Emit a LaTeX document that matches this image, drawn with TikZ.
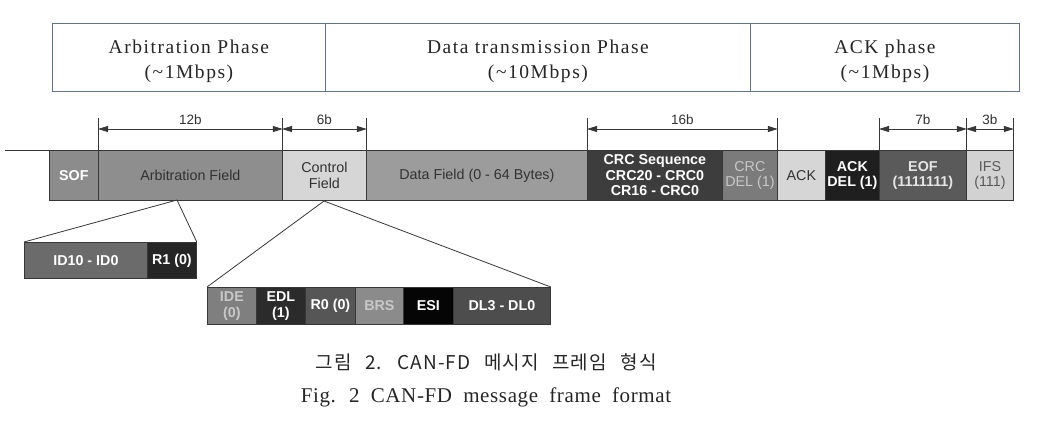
\documentclass[tikz,border=0pt]{standalone}
\usepackage{fontspec}
\setmainfont{Liberation Serif}
\setsansfont{Liberation Sans}
\newfontfamily\hdrfont[LetterSpace=8]{Liberation Serif}
\newfontfamily\capfont[LetterSpace=3,WordSpace=1.9]{Liberation Serif}
\newfontfamily\krfont[LetterSpace=6,WordSpace=2.5]{Noto Sans CJK KR}
\usetikzlibrary{arrows.meta}
\definecolor{hdrline}{RGB}{95,115,140}
\definecolor{edge}{RGB}{55,55,55}
\definecolor{txtdark}{RGB}{50,50,50}
\definecolor{cSOF}{RGB}{140,140,140}
\definecolor{cARB}{RGB}{142,142,142}
\definecolor{cCTL}{RGB}{214,214,214}
\definecolor{cDATA}{RGB}{156,156,156}
\definecolor{cCRC}{RGB}{61,61,61}
\definecolor{cCRCD}{RGB}{123,123,123}
\definecolor{cACK}{RGB}{214,214,214}
\definecolor{cACKD}{RGB}{31,31,31}
\definecolor{cEOF}{RGB}{90,90,90}
\definecolor{cIFS}{RGB}{210,210,210}
\definecolor{cID}{RGB}{107,107,107}
\definecolor{cR1}{RGB}{38,38,38}
\definecolor{cIDE}{RGB}{127,127,127}
\definecolor{cEDL}{RGB}{43,43,43}
\definecolor{cR0}{RGB}{86,86,86}
\definecolor{cBRS}{RGB}{139,139,139}
\definecolor{cESI}{RGB}{5,5,5}
\definecolor{cDL}{RGB}{77,77,77}
\definecolor{lighttxt}{RGB}{200,200,200}
\tikzset{
  phase/.style={draw=hdrline, line width=0.9pt, fill=white, minimum height=68pt,
    anchor=north west, inner sep=0pt, align=center, text=black!85,
    font=\hdrfont\fontsize{19.5}{25}\selectfont},
  fld/.style={draw=edge, line width=0.8pt, minimum height=50pt, anchor=north west,
    inner sep=0pt, align=center, font=\sffamily\fontsize{14.3}{15.5}\selectfont},
  fldb/.style={fld, font=\sffamily\bfseries\fontsize{14.3}{15.5}\selectfont},
  sub/.style={draw=edge, line width=0.8pt, minimum height=36pt, anchor=north west,
    inner sep=0pt, align=center, text=white, font=\sffamily\bfseries\fontsize{14.3}{16}\selectfont},
  tick/.style={draw=edge, line width=0.8pt},
  dim/.style={draw=edge, line width=0.8pt, {Triangle[length=10pt,width=6pt]}-{Triangle[length=10pt,width=6pt]}},
  dimlbl/.style={text=txtdark, font=\sffamily\fontsize{13.5}{15}\selectfont, inner sep=0pt},
  zoomline/.style={draw=edge, line width=0.8pt}
}
\begin{document}
\begin{tikzpicture}[x=1pt, y=-1pt]
\useasboundingbox (0,0) rectangle (1062,421);
% header
\node[phase, minimum width=273pt] (ph1) at (52,23) {\rule{0pt}{22pt}Arbitration Phase\\(\textasciitilde1Mbps)};
\node[phase, minimum width=425pt] (ph2) at (325,23) {\rule{0pt}{22pt}Data transmission Phase\\(\textasciitilde10Mbps)};
\node[phase, minimum width=269pt] (ph3) at (750,23) {\rule{0pt}{22pt}ACK phase\\(\textasciitilde1Mbps)};
% frame
\coordinate (lead) at (5,150);
\node[fldb, fill=cSOF, text=white, minimum width=49pt] (sof) at (49,150) {SOF};
\node[fld, fill=cARB, text=txtdark, minimum width=184pt] (arb) at (98,150) {Arbitration Field};
\node[fld, fill=cCTL, text=txtdark, minimum width=84pt] (ctl) at (282,150) {Control\\Field};
\node[fld, fill=cDATA, text=txtdark, minimum width=221pt] (data) at (366,150) {Data Field (0 - 64 Bytes)};
\node[fldb, fill=cCRC, text=white, minimum width=135pt] (crc) at (587,150) {CRC Sequence\\CRC20 - CRC0\\CR16 - CRC0};
\node[fld, fill=cCRCD, text=lighttxt, minimum width=55pt] (crcd) at (722,150) {CRC\\DEL (1)};
\node[fld, fill=cACK, text=txtdark, minimum width=48pt] (ack) at (777,150) {ACK};
\node[fldb, fill=cACKD, text=white, minimum width=54pt] (ackd) at (825,150) {ACK\\DEL (1)};
\node[fldb, fill=cEOF, text=white!90!black, minimum width=87pt] (eof) at (879,150) {EOF\\(1111111)};
\node[fld, fill=cIFS, text=black!65, minimum width=47pt] (ifs) at (966,150) {IFS\\(111)};
\draw[zoomline] (lead) -- (sof.north west);
% ticks
\foreach \n/\a in {arb/north west, ctl/north west, data/north west, crc/north west, crcd/north east, ackd/north east, eof/north east, ifs/north east}{
  \draw[tick] (\n.\a) -- ++(0,-32);
}
% dimension arrows
\draw[dim] ([yshift=21pt]arb.north west) -- node[dimlbl, above=4pt]{12b} ([yshift=21pt]arb.north east);
\draw[dim] ([yshift=21pt]ctl.north west) -- node[dimlbl, above=4pt]{6b} ([yshift=21pt]ctl.north east);
\draw[dim] ([yshift=21pt]crc.north west) -- node[dimlbl, above=4pt]{16b} ([yshift=21pt]crcd.north east);
\draw[dim] ([yshift=21pt]eof.north west) -- node[dimlbl, above=4pt]{7b} ([yshift=21pt]eof.north east);
\draw[dim] ([yshift=21pt]ifs.north west) -- node[dimlbl, above=4pt]{3b} ([yshift=21pt]ifs.north east);
% arbitration expansion
\node[sub, fill=cID, minimum width=123pt] (id) at (24,242) {ID10 - ID0};
\node[sub, fill=cR1, minimum width=49pt] (r1) at (147,242) {R1 (0)};
\coordinate (arbpt) at (177,200);
\draw[zoomline] (id.north west) -- (arbpt) -- (r1.north east);
% control expansion
\node[sub, fill=cIDE, text=lighttxt, minimum height=37pt, minimum width=49pt] (ide) at (207,287) {IDE\\(0)};
\node[sub, fill=cEDL, minimum height=37pt, minimum width=49pt] (edl) at (256,287) {EDL\\(1)};
\node[sub, fill=cR0, minimum height=37pt, minimum width=50pt] (r0) at (305,287) {R0 (0)};
\node[sub, fill=cBRS, text=lighttxt, minimum height=37pt, minimum width=48pt] (brs) at (355,287) {BRS};
\node[sub, fill=cESI, minimum height=37pt, minimum width=50pt] (esi) at (403,287) {ESI};
\node[sub, fill=cDL, minimum height=37pt, minimum width=97pt] (dl) at (453,287) {DL3 - DL0};
\coordinate (ctlpt) at (324,201);
\draw[zoomline] (ide.north west) -- (ctlpt) -- (dl.north east);
% captions
\node[font=\krfont\fontsize{19}{22}\selectfont, text=black!85, inner sep=0pt] (capkr) at (486,362) {그림 2. CAN-FD 메시지 프레임 형식};
\node[font=\capfont\fontsize{21}{24}\selectfont, text=black!85, inner sep=0pt] (capen) at (486,397) {Fig. 2 CAN-FD message frame format};
\end{tikzpicture}
\end{document}
